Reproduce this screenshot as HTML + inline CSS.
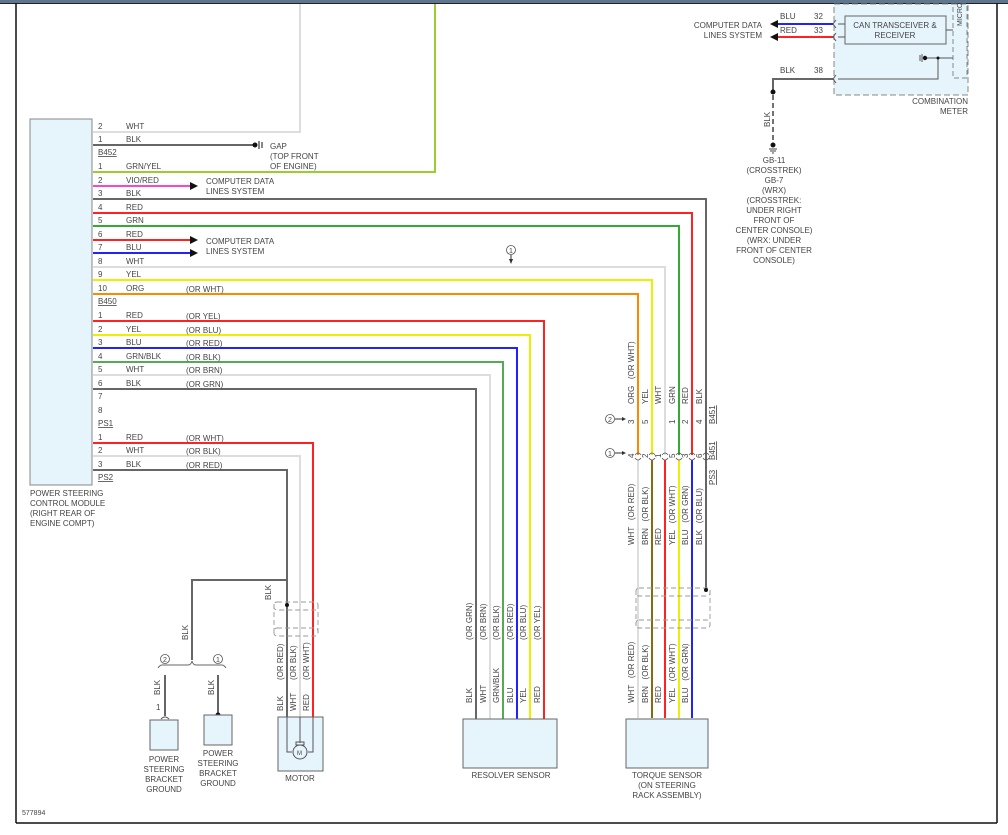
<!DOCTYPE html>
<html><head><meta charset="utf-8"><style>
html,body{margin:0;padding:0;background:#fff;}
svg{display:block;}
text{font-family:"Liberation Sans",sans-serif;font-size:8px;fill:#444;}
</style></head><body>
<svg width="1008" height="835" viewBox="0 0 1008 835" xmlns="http://www.w3.org/2000/svg">
<rect x="0" y="0" width="1008" height="3" fill="#5f7690"/>
<line x1="0" y1="3.5" x2="1008" y2="3.5" stroke="#222" stroke-width="1"/>
<line x1="16" y1="3" x2="16" y2="823" stroke="#111" stroke-width="1.5"/>
<line x1="997" y1="3" x2="997" y2="823" stroke="#111" stroke-width="1.5"/>
<line x1="16" y1="823" x2="997" y2="823" stroke="#111" stroke-width="1.5"/>

<!-- Module -->
<rect x="30" y="119" width="62" height="366" fill="#e6f4fb" stroke="#888"/>
<text x="30" y="496">POWER STEERING</text>
<text x="30" y="506">CONTROL MODULE</text>
<text x="30" y="516">(RIGHT REAR OF</text>
<text x="30" y="526">ENGINE COMPT)</text>

<g fill="none" stroke-width="2">
<polyline points="93,132 300,132 300,4" stroke="#ddd"/>
<polyline points="93,145 255,145" stroke="#666"/>
<polyline points="93,172 435,172 435,4" stroke="#9acd32"/>
<polyline points="93,186 190,186" stroke="#ff44cc"/>
<polyline points="93,199 706,199 706,590" stroke="#666"/>
<polyline points="93,213 692,213 692,455" stroke="#f22"/>
<polyline points="93,226 679,226 679,455" stroke="#3a3"/>
<polyline points="93,240 190,240" stroke="#f22"/>
<polyline points="93,253 190,253" stroke="#22f"/>
<polyline points="93,267 665,267 665,455" stroke="#ddd"/>
<polyline points="93,280 652,280 652,455" stroke="#ee0"/>
<polyline points="93,294 638,294 638,455" stroke="#f80"/>
<polyline points="93,321 544,321 544,719" stroke="#f22"/>
<polyline points="93,335 530,335 530,719" stroke="#ee0"/>
<polyline points="93,348 517,348 517,719" stroke="#22f"/>
<polyline points="93,362 503,362 503,719" stroke="#5a5"/>
<polyline points="93,375 490,375 490,719" stroke="#ddd"/>
<polyline points="93,389 476,389 476,719" stroke="#666"/>
<polyline points="93,443 313,443 313,717" stroke="#f22"/>
<polyline points="93,456 300,456 300,717" stroke="#ddd"/>
<polyline points="93,470 287,470 287,717" stroke="#666"/>
<!-- torque lower -->
<line x1="638" y1="460" x2="638" y2="718" stroke="#ddd"/>
<line x1="652" y1="460" x2="652" y2="718" stroke="#8b6914"/>
<line x1="665" y1="460" x2="665" y2="718" stroke="#f22"/>
<line x1="679" y1="460" x2="679" y2="718" stroke="#ee0"/>
<line x1="692" y1="460" x2="692" y2="718" stroke="#22f"/>
<line x1="706" y1="460" x2="706" y2="590" stroke="#666"/>
<!-- ground -->
<polyline points="287,605 287,580 192,580 192,660" stroke="#666"/>
<line x1="165" y1="675" x2="165" y2="716" stroke="#666"/>
<line x1="218" y1="675" x2="218" y2="715" stroke="#666"/>
<!-- top right -->
<line x1="778" y1="24" x2="833" y2="24" stroke="#22f"/>
<line x1="778" y1="37" x2="833" y2="37" stroke="#f22"/>
<polyline points="833,79 773,79 773,92" stroke="#666"/>
</g>
<polygon points="190,182 198,186 190,190" fill="#111"/>
<polygon points="190,236 198,240 190,244" fill="#111"/>
<polygon points="190,249 198,253 190,257" fill="#111"/>
<polygon points="778,20 770,24 778,28" fill="#111"/>
<polygon points="778,33 770,37 778,41" fill="#111"/>
<circle cx="255" cy="145" r="2.5" fill="#111"/>
<line x1="259" y1="141" x2="259" y2="149" stroke="#111"/><line x1="262" y1="142" x2="262" y2="148" stroke="#111"/>
<text x="270" y="149">GAP</text><text x="270" y="159">(TOP FRONT</text><text x="270" y="169">OF ENGINE)</text>
<text x="206" y="184">COMPUTER DATA</text><text x="206" y="194">LINES SYSTEM</text>
<text x="206" y="244">COMPUTER DATA</text><text x="206" y="254">LINES SYSTEM</text>

<!-- pin labels -->
<g>
<text x="98" y="129">2</text><text x="126" y="129">WHT</text>
<text x="98" y="142">1</text><text x="126" y="142">BLK</text>
<text x="98" y="155" text-decoration="underline">B452</text>
<text x="98" y="169">1</text><text x="126" y="169">GRN/YEL</text>
<text x="98" y="183">2</text><text x="126" y="183">VIO/RED</text>
<text x="98" y="196">3</text><text x="126" y="196">BLK</text>
<text x="98" y="210">4</text><text x="126" y="210">RED</text>
<text x="98" y="223">5</text><text x="126" y="223">GRN</text>
<text x="98" y="237">6</text><text x="126" y="237">RED</text>
<text x="98" y="250">7</text><text x="126" y="250">BLU</text>
<text x="98" y="264">8</text><text x="126" y="264">WHT</text>
<text x="98" y="277">9</text><text x="126" y="277">YEL</text>
<text x="98" y="291">10</text><text x="126" y="291">ORG</text><text x="186" y="292">(OR WHT)</text>
<text x="98" y="304" text-decoration="underline">B450</text>
<text x="98" y="318">1</text><text x="126" y="318">RED</text><text x="186" y="319">(OR YEL)</text>
<text x="98" y="332">2</text><text x="126" y="332">YEL</text><text x="186" y="333">(OR BLU)</text>
<text x="98" y="345">3</text><text x="126" y="345">BLU</text><text x="186" y="346">(OR RED)</text>
<text x="98" y="359">4</text><text x="126" y="359">GRN/BLK</text><text x="186" y="360">(OR BLK)</text>
<text x="98" y="372">5</text><text x="126" y="372">WHT</text><text x="186" y="373">(OR BRN)</text>
<text x="98" y="386">6</text><text x="126" y="386">BLK</text><text x="186" y="387">(OR GRN)</text>
<text x="98" y="399">7</text><text x="98" y="413">8</text>
<text x="98" y="426" text-decoration="underline">PS1</text>
<text x="98" y="440">1</text><text x="126" y="440">RED</text><text x="186" y="441">(OR WHT)</text>
<text x="98" y="453">2</text><text x="126" y="453">WHT</text><text x="186" y="454">(OR BLK)</text>
<text x="98" y="467">3</text><text x="126" y="467">BLK</text><text x="186" y="468">(OR RED)</text>
<text x="98" y="480" text-decoration="underline">PS2</text>
</g>

<!-- callouts -->
<circle cx="511" cy="250" r="4.5" fill="#fff" stroke="#555" stroke-width="0.8"/><text x="509" y="253" style="font-size:7px">1</text>
<line x1="511" y1="255" x2="511" y2="262" stroke="#333"/><polygon points="509,259 513,259 511,264" fill="#333"/>
<circle cx="610" cy="419" r="4.5" fill="#fff" stroke="#555" stroke-width="0.8"/><text x="608" y="422" style="font-size:7px">2</text>
<line x1="615" y1="419" x2="624" y2="419" stroke="#333"/><polygon points="622,417 626,419 622,421" fill="#333"/>
<circle cx="610" cy="453" r="4.5" fill="#fff" stroke="#555" stroke-width="0.8"/><text x="608" y="456" style="font-size:7px">1</text>
<line x1="615" y1="453" x2="624" y2="453" stroke="#333"/><polygon points="622,451 626,453 622,455" fill="#333"/>

<!-- torque connector labels -->
<g>
<text transform="translate(634,404) rotate(-90)">ORG&#160;&#160;&#160;(OR WHT)</text>
<text transform="translate(648,404) rotate(-90)">YEL</text>
<text transform="translate(661,404) rotate(-90)">WHT</text>
<text transform="translate(675,404) rotate(-90)">GRN</text>
<text transform="translate(688,404) rotate(-90)">RED</text>
<text transform="translate(702,404) rotate(-90)">BLK</text>
<text transform="translate(634,424) rotate(-90)">3</text>
<text transform="translate(648,424) rotate(-90)">5</text>
<text transform="translate(675,424) rotate(-90)">1</text>
<text transform="translate(688,424) rotate(-90)">2</text>
<text transform="translate(702,424) rotate(-90)">4</text>
<text transform="translate(715,424) rotate(-90)" text-decoration="underline">B451</text>
<text transform="translate(634,458) rotate(-90)">4</text>
<text transform="translate(648,458) rotate(-90)">2</text>
<text transform="translate(661,458) rotate(-90)">1</text>
<text transform="translate(675,458) rotate(-90)">5</text>
<text transform="translate(688,458) rotate(-90)">3</text>
<text transform="translate(702,458) rotate(-90)">6</text>
<text transform="translate(715,460) rotate(-90)" text-decoration="underline">B451</text>
<text transform="translate(715,485) rotate(-90)" text-decoration="underline">PS3</text>
<text transform="translate(634,545) rotate(-90)">WHT&#160;&#160;&#160;(OR RED)</text>
<text transform="translate(648,545) rotate(-90)">BRN&#160;&#160;&#160;(OR BLK)</text>
<text transform="translate(661,545) rotate(-90)">RED</text>
<text transform="translate(675,545) rotate(-90)">YEL&#160;&#160;&#160;(OR WHT)</text>
<text transform="translate(688,545) rotate(-90)">BLU&#160;&#160;&#160;(OR GRN)</text>
<text transform="translate(702,545) rotate(-90)">BLK&#160;&#160;&#160;(OR BLU)</text>
<text transform="translate(634,703) rotate(-90)">WHT&#160;&#160;&#160;(OR RED)</text>
<text transform="translate(648,703) rotate(-90)">BRN&#160;&#160;&#160;(OR BLK)</text>
<text transform="translate(661,703) rotate(-90)">RED</text>
<text transform="translate(675,703) rotate(-90)">YEL&#160;&#160;&#160;(OR WHT)</text>
<text transform="translate(688,703) rotate(-90)">BLU&#160;&#160;&#160;(OR GRN)</text>
</g>
<g fill="none" stroke="#555" stroke-width="0.8">
<path d="M635,455 q3,-4 6,0 M649,455 q3,-4 6,0 M662,455 q3,-4 6,0 M676,455 q3,-4 6,0 M689,455 q3,-4 6,0 M703,455 q3,-4 6,0"/>
<path d="M635,458 q3,4 6,0 M649,458 q3,4 6,0 M662,458 q3,4 6,0 M676,458 q3,4 6,0 M689,458 q3,4 6,0 M703,458 q3,4 6,0"/>
</g>
<!-- torque shield -->
<g fill="none" stroke="#999" stroke-dasharray="5,3" stroke-width="0.9">
<rect x="636" y="588" width="74" height="8" rx="3"/>
<rect x="636" y="620" width="74" height="8" rx="3"/>
<line x1="636" y1="590" x2="636" y2="626"/><line x1="710" y1="590" x2="710" y2="626"/>
</g>
<circle cx="706" cy="590" r="2" fill="#111"/>
<rect x="626" y="719" width="82" height="49" fill="#e6f4fb" stroke="#666"/>
<text x="667" y="778" text-anchor="middle">TORQUE SENSOR</text>
<text x="667" y="788" text-anchor="middle">(ON STEERING</text>
<text x="667" y="798" text-anchor="middle">RACK ASSEMBLY)</text>

<!-- resolver -->
<g>
<text transform="translate(472,640) rotate(-90)">(OR GRN)</text>
<text transform="translate(486,640) rotate(-90)">(OR BRN)</text>
<text transform="translate(499,640) rotate(-90)">(OR BLK)</text>
<text transform="translate(513,640) rotate(-90)">(OR RED)</text>
<text transform="translate(526,640) rotate(-90)">(OR BLU)</text>
<text transform="translate(540,640) rotate(-90)">(OR YEL)</text>
<text transform="translate(472,703) rotate(-90)">BLK</text>
<text transform="translate(486,703) rotate(-90)">WHT</text>
<text transform="translate(499,703) rotate(-90)">GRN/BLK</text>
<text transform="translate(513,703) rotate(-90)">BLU</text>
<text transform="translate(526,703) rotate(-90)">YEL</text>
<text transform="translate(540,703) rotate(-90)">RED</text>
</g>
<rect x="463" y="719" width="94" height="49" fill="#e6f4fb" stroke="#666"/>
<text x="511" y="778" text-anchor="middle">RESOLVER SENSOR</text>

<!-- motor -->
<g fill="none" stroke="#999" stroke-dasharray="5,3" stroke-width="0.9">
<rect x="274" y="602" width="44" height="8" rx="3"/>
<rect x="274" y="628" width="44" height="8" rx="3"/>
<line x1="318" y1="604" x2="318" y2="634"/><line x1="274" y1="604" x2="274" y2="634"/>
</g>
<circle cx="287" cy="605" r="2" fill="#111"/>
<text transform="translate(271,600) rotate(-90)">BLK</text>
<text transform="translate(283,680) rotate(-90)">(OR RED)</text>
<text transform="translate(296,680) rotate(-90)">(OR BLK)</text>
<text transform="translate(309,680) rotate(-90)">(OR WHT)</text>
<text transform="translate(283,711) rotate(-90)">BLK</text>
<text transform="translate(296,711) rotate(-90)">WHT</text>
<text transform="translate(309,711) rotate(-90)">RED</text>
<rect x="278" y="717" width="45" height="54" fill="#e6f4fb" stroke="#666"/>
<g fill="none" stroke="#555" stroke-width="1">
<polyline points="287,717 287,752 292,752"/>
<polyline points="313,717 313,752 308,752"/>
<line x1="300" y1="717" x2="300" y2="743"/>
<circle cx="300" cy="752" r="7" fill="#e6f4fb"/>
<rect x="296" y="742" width="8" height="3"/>
</g>
<text x="297" y="755" style="font-size:6px">M</text>
<text x="300" y="781" text-anchor="middle">MOTOR</text>

<!-- grounds -->
<text transform="translate(188,640) rotate(-90)">BLK</text>
<path d="M158,668 q2,-3 4,-3 L188,665 q3,0 4,-4 q1,4 4,4 L222,665 q2,0 4,3" fill="none" stroke="#666" stroke-width="0.9"/>
<circle cx="165" cy="659" r="4.5" fill="#fff" stroke="#555" stroke-width="0.8"/><text x="163" y="662" style="font-size:7px">2</text>
<circle cx="218" cy="659" r="4.5" fill="#fff" stroke="#555" stroke-width="0.8"/><text x="216" y="662" style="font-size:7px">1</text>
<text transform="translate(160,695) rotate(-90)">BLK</text>
<text transform="translate(214,695) rotate(-90)">BLK</text>
<text x="156" y="710">1</text>
<path d="M161,719 q4,-4 8,0" fill="none" stroke="#555"/>
<circle cx="218" cy="715" r="2.5" fill="#111"/>
<rect x="150" y="720" width="28" height="30" fill="#e6f4fb" stroke="#666"/>
<rect x="204" y="715" width="28" height="30" fill="#e6f4fb" stroke="#666"/>
<text x="164" y="762" text-anchor="middle">POWER</text><text x="164" y="772" text-anchor="middle">STEERING</text>
<text x="164" y="782" text-anchor="middle">BRACKET</text><text x="164" y="792" text-anchor="middle">GROUND</text>
<text x="218" y="756" text-anchor="middle">POWER</text><text x="218" y="766" text-anchor="middle">STEERING</text>
<text x="218" y="776" text-anchor="middle">BRACKET</text><text x="218" y="786" text-anchor="middle">GROUND</text>

<!-- combination meter -->
<rect x="834" y="4" width="134" height="91" fill="#e6f4fb" stroke="#888" stroke-dasharray="6,3"/>
<rect x="953" y="4" width="14" height="74" fill="none" stroke="#888" stroke-dasharray="5,3"/>
<text transform="translate(962,26) rotate(-90)" style="font-size:7px">MICRO</text>
<rect x="845" y="16" width="101" height="28" fill="#e6f4fb" stroke="#666"/>
<text x="895" y="28" text-anchor="middle">CAN TRANSCEIVER &amp;</text>
<text x="895" y="38" text-anchor="middle">RECEIVER</text>
<g stroke="#555" fill="none">
<line x1="838" y1="24" x2="845" y2="24"/><line x1="838" y1="37" x2="845" y2="37"/>
<line x1="946" y1="30" x2="953" y2="30"/>
<polyline points="838,79 938,79 938,58 953,58"/>
<line x1="925" y1="58" x2="938" y2="58"/>
<path d="M836,20 l-3,4 l3,4 M836,33 l-3,4 l3,4 M836,75 l-3,4 l3,4"/>
<line x1="920" y1="55" x2="920" y2="61"/><line x1="922" y1="54" x2="922" y2="62"/>
</g>
<circle cx="925" cy="58" r="2.2" fill="#111"/><circle cx="938" cy="58" r="1.5" fill="#111"/>
<text x="780" y="19">BLU</text><text x="814" y="19">32</text>
<text x="780" y="33">RED</text><text x="814" y="33">33</text>
<text x="780" y="73">BLK</text><text x="814" y="73">38</text>
<text x="762" y="28" text-anchor="end">COMPUTER DATA</text>
<text x="762" y="38" text-anchor="end">LINES SYSTEM</text>
<text x="968" y="104" text-anchor="end">COMBINATION</text>
<text x="968" y="114" text-anchor="end">METER</text>
<circle cx="773" cy="92" r="2.5" fill="#111"/>
<line x1="773" y1="95" x2="773" y2="143" stroke="#444" stroke-width="1.5" stroke-dasharray="5,3"/>
<text transform="translate(770,127) rotate(-90)">BLK</text>
<circle cx="773" cy="145" r="2.5" fill="#111"/>
<line x1="769" y1="149" x2="777" y2="149" stroke="#444"/><line x1="770" y1="151" x2="776" y2="151" stroke="#444"/><line x1="772" y1="153" x2="774" y2="153" stroke="#444"/>
<g text-anchor="middle">
<text x="774" y="163">GB-11</text><text x="774" y="173">(CROSSTREK)</text><text x="774" y="183">GB-7</text>
<text x="774" y="193">(WRX)</text><text x="774" y="203">(CROSSTREK:</text><text x="774" y="213">UNDER RIGHT</text>
<text x="774" y="223">FRONT OF</text><text x="774" y="233">CENTER CONSOLE)</text><text x="774" y="243">(WRX: UNDER</text>
<text x="774" y="253">FRONT OF CENTER</text><text x="774" y="263">CONSOLE)</text>
</g>
<text x="22" y="815" style="font-size:7px">577894</text>
</svg>
</body></html>
